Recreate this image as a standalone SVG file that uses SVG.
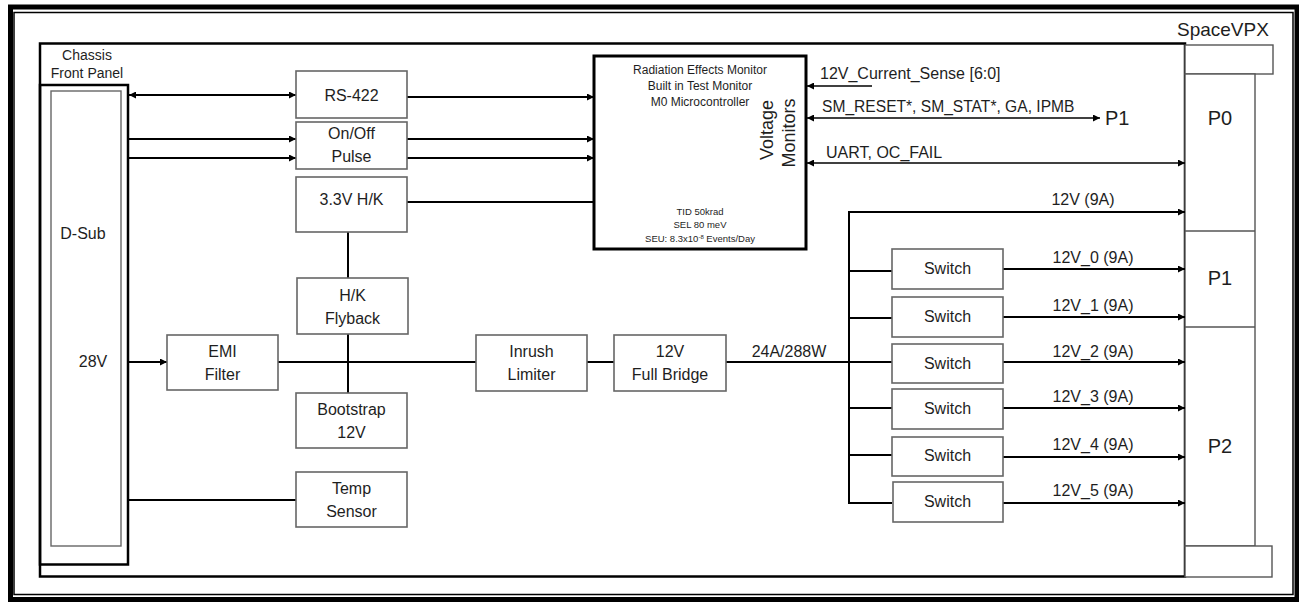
<svg xmlns="http://www.w3.org/2000/svg" width="1299" height="602" viewBox="0 0 1299 602">
<defs>
<marker id="ah" viewBox="0 0 10 10" refX="10" refY="5" markerWidth="9" markerHeight="7" markerUnits="userSpaceOnUse" orient="auto-start-reverse"><path d="M0,0 L10,5 L0,10 z" fill="#000"/></marker>
<style>
.box{fill:#fff;stroke:#666;stroke-width:1.6}
.conn{fill:#fff;stroke:#555;stroke-width:1.4}
.ln{fill:none;stroke:#000;stroke-width:2}
.arr{fill:none;stroke:#000;stroke-width:2;marker-end:url(#ah)}
.bi{fill:none;stroke:#000;stroke-width:2;marker-end:url(#ah);marker-start:url(#ah)}
text{font-family:"Liberation Sans",Arial,sans-serif;fill:#1e1e1e}
.t{font-size:16px;text-anchor:middle}
.s{font-size:16px}
.m{font-size:12px;text-anchor:middle}
.xs{font-size:9.5px;text-anchor:middle}
.p{font-size:20px;text-anchor:middle}
.v{font-size:18px;text-anchor:middle}
</style>
</defs>
<rect x="10.5" y="7" width="1286.5" height="592.5" fill="#fff" stroke="#000" stroke-width="5"/>
<rect x="14" y="12.5" width="1279" height="582" fill="none" stroke="#000" stroke-width="1.5"/>
<g id="board">
<rect x="40" y="43.5" width="1145" height="533" fill="none" stroke="#000" stroke-width="2.5"/>
<text x="1177" y="36" style="font-size:19px">SpaceVPX</text>
</g>
<g id="connectors-vpx">
<rect class="conn" x="1185" y="45" width="88" height="29"/>
<rect class="conn" x="1185" y="74" width="70" height="472"/>
<line x1="1185" y1="231" x2="1255" y2="231" stroke="#555" stroke-width="1.4"/>
<line x1="1185" y1="327" x2="1255" y2="327" stroke="#555" stroke-width="1.4"/>
<rect class="conn" x="1185" y="546" width="87" height="31"/>
<text class="p" x="1220" y="125">P0</text>
<text class="p" x="1220" y="285">P1</text>
<text class="p" x="1220" y="453">P2</text>
</g>
<g id="chassis">
<text x="87" y="60" style="font-size:14px;text-anchor:middle">Chassis</text>
<text x="87" y="78" style="font-size:14px;text-anchor:middle">Front Panel</text>
<rect x="40" y="85" width="88" height="479.5" fill="none" stroke="#000" stroke-width="2.5"/>
<rect x="51" y="91" width="70" height="455" fill="none" stroke="#666" stroke-width="1.4"/>
<text class="t" x="83" y="239">D-Sub</text>
<text class="t" x="93" y="367">28V</text>
</g>
<g id="connectors">
<line class="bi" x1="129" y1="95" x2="296" y2="95"/>
<line class="arr" x1="128" y1="139" x2="296" y2="139"/>
<line class="arr" x1="128" y1="158" x2="296" y2="158"/>
<line class="arr" x1="407" y1="97" x2="594" y2="97"/>
<line class="arr" x1="407" y1="139" x2="594" y2="139"/>
<line class="arr" x1="407" y1="158" x2="594" y2="158"/>
<line class="ln" x1="407" y1="202" x2="594" y2="202"/>
<line class="ln" x1="348" y1="232" x2="348" y2="278"/>
<line class="ln" x1="348" y1="334" x2="348" y2="393"/>
<line class="arr" x1="128" y1="362" x2="167" y2="362"/>
<line class="ln" x1="278" y1="362" x2="476" y2="362"/>
<line class="ln" x1="587" y1="362" x2="614" y2="362"/>
<line class="ln" x1="726" y1="362" x2="892" y2="362"/>
<line class="ln" x1="128" y1="500" x2="296" y2="500"/>
<line class="ln" x1="849" y1="211" x2="849" y2="504"/>
<line class="arr" x1="849" y1="212" x2="1185" y2="212"/>
<line class="ln" x1="849" y1="271" x2="892" y2="271"/>
<line class="ln" x1="849" y1="318" x2="892" y2="318"/>
<line class="ln" x1="849" y1="408" x2="892" y2="408"/>
<line class="ln" x1="849" y1="455" x2="892" y2="455"/>
<line class="ln" x1="849" y1="503" x2="892" y2="503"/>
<line class="arr" x1="1003" y1="269" x2="1185" y2="269"/>
<line class="arr" x1="1003" y1="317" x2="1185" y2="317"/>
<line class="arr" x1="1003" y1="362" x2="1185" y2="362"/>
<line class="arr" x1="1003" y1="408" x2="1185" y2="408"/>
<line class="arr" x1="1003" y1="457" x2="1185" y2="457"/>
<line class="arr" x1="1003" y1="503" x2="1185" y2="503"/>
<line class="arr" x1="872" y1="86" x2="807" y2="86" style="stroke-width:1.6"/>
<line class="bi" x1="807" y1="118" x2="1100" y2="118" style="stroke-width:1.6"/>
<line class="bi" x1="807" y1="163" x2="1185" y2="163" style="stroke-width:1.6"/>
<text class="s" x="820" y="79">12V_Current_Sense [6:0]</text>
<text class="s" x="822" y="112" style="font-size:15.6px">SM_RESET*, SM_STAT*, GA, IPMB</text>
<text x="1105" y="125" style="font-size:20px">P1</text>
<text class="s" x="826" y="158">UART, OC_FAIL</text>
<text class="t" x="789" y="357">24A/288W</text>
<text class="t" x="1083" y="205">12V (9A)</text>
<text class="t" x="1093" y="263">12V_0 (9A)</text>
<text class="t" x="1093" y="311">12V_1 (9A)</text>
<text class="t" x="1093" y="357">12V_2 (9A)</text>
<text class="t" x="1093" y="402">12V_3 (9A)</text>
<text class="t" x="1093" y="450">12V_4 (9A)</text>
<text class="t" x="1093" y="496">12V_5 (9A)</text>
</g>
<g id="rs422"><rect class="box" x="296" y="71" width="111" height="47"/><text class="t" x="351.5" y="101">RS-422</text></g>
<g id="onoff"><rect class="box" x="296" y="122" width="111" height="47"/><text class="t" x="351.5" y="139">On/Off</text><text class="t" x="351.5" y="162">Pulse</text></g>
<g id="hk33"><rect class="box" x="296" y="177" width="111" height="55"/><text class="t" x="351.5" y="205">3.3V H/K</text></g>
<g id="flyback"><rect class="box" x="297" y="278" width="111" height="56"/><text class="t" x="352.5" y="301">H/K</text><text class="t" x="352.5" y="324">Flyback</text></g>
<g id="bootstrap"><rect class="box" x="296" y="393" width="111" height="55"/><text class="t" x="351.5" y="415">Bootstrap</text><text class="t" x="351.5" y="438">12V</text></g>
<g id="temp"><rect class="box" x="296" y="472" width="111" height="55"/><text class="t" x="351.5" y="494">Temp</text><text class="t" x="351.5" y="517">Sensor</text></g>
<g id="emi"><rect class="box" x="167" y="335" width="111" height="55"/><text class="t" x="222.5" y="357">EMI</text><text class="t" x="222.5" y="380">Filter</text></g>
<g id="inrush"><rect class="box" x="476" y="335" width="111" height="56"/><text class="t" x="531.5" y="357">Inrush</text><text class="t" x="531.5" y="380">Limiter</text></g>
<g id="fullbridge"><rect class="box" x="614" y="335" width="112" height="56"/><text class="t" x="670" y="357">12V</text><text class="t" x="670" y="380">Full Bridge</text></g>
<g id="micro">
<rect x="594" y="56" width="212" height="193" fill="#fff" stroke="#000" stroke-width="3"/>
<text class="m" x="700" y="74">Radiation Effects Monitor</text>
<text class="m" x="700" y="90">Built in Test Monitor</text>
<text class="m" x="700" y="106">M0 Microcontroller</text>
<text class="xs" x="700" y="215">TID 50krad</text>
<text class="xs" x="700" y="228">SEL 80 meV</text>
<text class="xs" x="700" y="242">SEU: 8.3x10<tspan style="font-size:6px" dy="-3">-8</tspan><tspan dy="3"> Events/Day</tspan></text>
<text class="v" transform="translate(773,130) rotate(-90)">Voltage</text>
<text class="v" transform="translate(795,133) rotate(-90)">Monitors</text>
</g>
<g id="switches">
<rect class="box" x="892" y="249" width="111" height="40"/><text class="t" x="947.5" y="274">Switch</text>
<rect class="box" x="892" y="297" width="111" height="40"/><text class="t" x="947.5" y="322">Switch</text>
<rect class="box" x="892" y="344" width="111" height="39"/><text class="t" x="947.5" y="369">Switch</text>
<rect class="box" x="892" y="389" width="111" height="40"/><text class="t" x="947.5" y="414">Switch</text>
<rect class="box" x="892" y="437" width="111" height="39"/><text class="t" x="947.5" y="461">Switch</text>
<rect class="box" x="893" y="482" width="110" height="40"/><text class="t" x="947.5" y="507">Switch</text>
</g>
</svg>
